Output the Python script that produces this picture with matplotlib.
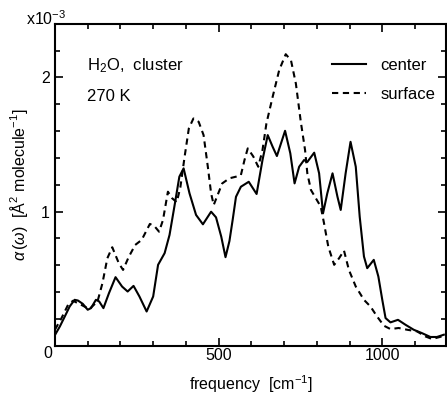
import matplotlib
matplotlib.use("Agg")
import matplotlib.pyplot as plt
from matplotlib.ticker import MultipleLocator, FuncFormatter

plt.rcParams['font.family'] = ['Liberation Sans', 'DejaVu Sans']
plt.rcParams['mathtext.fontset'] = 'custom'
plt.rcParams['mathtext.rm'] = 'Liberation Sans'
plt.rcParams['mathtext.it'] = 'Liberation Sans:italic'

# frequency [cm^-1], alpha [1e-3 A^2 / molecule]
center_freq = [0, 15, 30, 45, 60, 70, 85, 100, 110, 125, 135, 148, 165, 185, 205, 222, 240,
               258, 280, 300, 315, 335, 350, 365, 380, 393, 411, 431, 452, 477, 492, 508,
               521, 533, 543, 553, 568, 592, 616, 634, 650, 665, 678, 703, 719, 732, 746,
               761, 771, 792, 807, 819, 832, 848, 863, 873, 888, 903, 919, 931, 944, 954,
               974, 988, 1000, 1010, 1025, 1048, 1071, 1096, 1121, 1147, 1167, 1188]
center_val = [0.08, 0.144, 0.218, 0.293, 0.342, 0.337, 0.312, 0.268, 0.28, 0.342, 0.33, 0.28,
              0.392, 0.511, 0.441, 0.404, 0.446, 0.367, 0.255, 0.367, 0.603, 0.69, 0.826,
              1.04, 1.26, 1.322, 1.136, 0.975, 0.905, 0.999, 0.957, 0.813, 0.66, 0.78, 0.94,
              1.11, 1.185, 1.222, 1.131, 1.384, 1.57, 1.483, 1.414, 1.602, 1.434, 1.21,
              1.334, 1.384, 1.37, 1.439, 1.285, 0.987, 1.136, 1.285, 1.111, 1.012, 1.285,
              1.52, 1.334, 0.962, 0.665, 0.578, 0.64, 0.516, 0.342, 0.206, 0.174, 0.193,
              0.156, 0.119, 0.094, 0.065, 0.065, 0.082]

surface_freq = [0, 20, 40, 55, 80, 105, 130, 145, 160, 175, 195, 208, 225, 245, 265, 290,
                305, 318, 330, 345, 358, 372, 383, 396, 409, 423, 439, 454, 467, 477, 485,
                497, 511, 533, 553, 568, 579, 589, 606, 621, 634, 646, 665, 685, 705, 721,
                736, 751, 764, 771, 782, 797, 812, 822, 835, 853, 868, 883, 898, 919, 944,
                964, 984, 1005, 1025, 1050, 1076, 1106, 1132, 1152, 1182]
surface_val = [0.12, 0.206, 0.305, 0.335, 0.305, 0.273, 0.33, 0.466, 0.652, 0.734, 0.615,
               0.565, 0.66, 0.751, 0.789, 0.908, 0.888, 0.85, 0.937, 1.148, 1.099, 1.07,
               1.18, 1.408, 1.62, 1.694, 1.669, 1.57, 1.334, 1.136, 1.049, 1.124, 1.21,
               1.248, 1.26, 1.272, 1.384, 1.471, 1.41, 1.334, 1.458, 1.657, 1.855, 2.054,
               2.173, 2.128, 1.954, 1.67, 1.46, 1.285, 1.161, 1.099, 1.037, 0.913, 0.739,
               0.603, 0.652, 0.709, 0.565, 0.441, 0.342, 0.292, 0.218, 0.149, 0.124, 0.132,
               0.119, 0.107, 0.069, 0.05, 0.069]

fig = plt.figure(figsize=(4.47, 3.96), dpi=100)
ax = fig.add_axes([0.123, 0.127, 0.875, 0.813])

ax.plot(center_freq, center_val, color='black', lw=1.5, label='center')
ax.plot(surface_freq, surface_val, color='black', lw=1.5, dashes=(3.0, 2.2), label='surface')

ax.set_xlim(0, 1195)
ax.set_ylim(0, 2.4)
ax.xaxis.set_major_locator(MultipleLocator(500))
ax.xaxis.set_minor_locator(MultipleLocator(100))
ax.yaxis.set_major_locator(MultipleLocator(1))
ax.yaxis.set_minor_locator(MultipleLocator(0.2))
ax.xaxis.set_major_formatter(FuncFormatter(lambda v, p: "" if abs(v) < 1e-9 else f"{int(round(v))}"))
ax.yaxis.set_major_formatter(FuncFormatter(lambda v, p: "" if abs(v) < 1e-9 else f"{int(round(v))}"))
ax.tick_params(which='both', direction='in', top=True, right=True, labelsize=11.5, width=1.2)
ax.tick_params(which='major', length=6)
ax.tick_params(axis='x', which='major', pad=2)
ax.tick_params(axis='y', which='major', pad=3.5)
ax.tick_params(which='minor', length=3.5)
for s in ax.spines.values():
    s.set_linewidth(1.5)

# shared origin label at the corner
ax.text(-0.018, -0.024, '0', transform=ax.transAxes, fontsize=11.5, ha='center', va='center')

ax.set_xlabel('frequency  [cm$^{-1}$]', fontsize=11.5, labelpad=7)
ax.set_ylabel(r'$\it{\alpha}\,(\it{\omega})$  [Å$^2$ molecule$^{-1}$]', fontsize=11.5, labelpad=8)

fig.text(0.058, 0.938, r'x10$^{-3}$', fontsize=11.5, ha='left', va='baseline')
ax.text(0.082, 0.87, r'H$_2$O,  cluster', transform=ax.transAxes, fontsize=12, va='center')
ax.text(0.082, 0.773, '270 K', transform=ax.transAxes, fontsize=12, va='center')

ax.legend(loc='upper right', bbox_to_anchor=(0.99, 0.915), frameon=False, fontsize=12,
          handlelength=2.0, handletextpad=0.9, labelspacing=0.85, borderaxespad=0.0)

fig.savefig('out.png', dpi=100)
